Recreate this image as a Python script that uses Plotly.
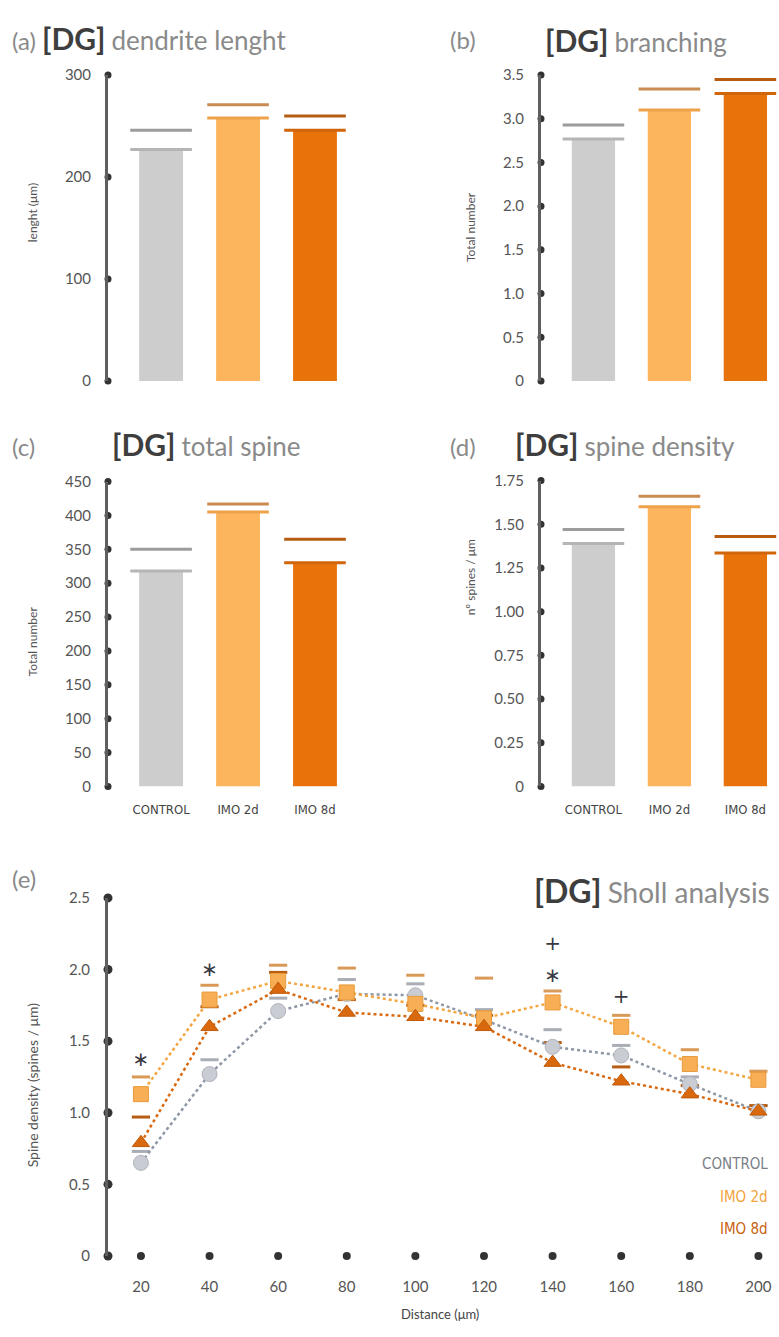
import plotly.graph_objects as go

# ---------------- data ----------------
groups = ["CONTROL", "IMO 2d", "IMO 8d"]
length_mean = [227, 258, 246]
length_err = [19, 13, 14]
branch_mean = [2.77, 3.10, 3.29]
branch_err = [0.16, 0.24, 0.16]
spine_total_mean = [318, 405, 330]
spine_total_err = [32, 12, 35]
spine_density_mean = [1.39, 1.60, 1.335]
spine_density_err = [0.08, 0.06, 0.095]

length_ticks = [0, 100, 200, 300]
branch_ticks = [0, 0.5, 1.0, 1.5, 2.0, 2.5, 3.0, 3.5]
branch_ticktext = ["0", "0.5", "1.0", "1.5", "2.0", "2.5", "3.0", "3.5"]
total_ticks = [0, 50, 100, 150, 200, 250, 300, 350, 400, 450]
density_ticks = [0, 0.25, 0.5, 0.75, 1.0, 1.25, 1.5, 1.75]
density_ticktext = ["0", "0.25", "0.50", "0.75", "1.00", "1.25", "1.50", "1.75"]

distance = [20, 40, 60, 80, 100, 120, 140, 160, 180, 200]
sholl_control = [0.65, 1.27, 1.71, 1.83, 1.82, 1.65, 1.46, 1.40, 1.20, 1.01]
sholl_imo2 = [1.13, 1.79, 1.92, 1.84, 1.76, 1.66, 1.77, 1.60, 1.34, 1.23]
sholl_imo8 = [0.79, 1.60, 1.86, 1.70, 1.67, 1.60, 1.35, 1.22, 1.13, 1.01]
sholl_control_err = [0.08, 0.10, 0.09, 0.10, 0.08, 0.07, 0.12, 0.07, 0.05, 0.04]
sholl_imo2_err = [0.12, 0.10, 0.11, 0.17, 0.20, 0.28, 0.08, 0.08, 0.10, 0.06]
sholl_imo8_err = [0.18, 0.14, 0.12, 0.09, 0.08, 0.08, 0.14, 0.10, 0.06, 0.04]
sholl_yticks = [0, 0.5, 1.0, 1.5, 2.0, 2.5]
sholl_yticktext = ["0", "0.5", "1.0", "1.5", "2.0", "2.5"]
sig_x = [20, 40, 140, 140, 160]
sig_y = [1.36, 1.99, 1.95, 2.17, 1.80]
sig_text = ["∗", "∗", "∗", "+", "+"]

# ---------------- style ----------------
W, H = 779, 1337
bar_colors = ["#cdcdcd", "#fcb55c", "#e8730b"]
top_colors = ["#b5b5b5", "#eea24a", "#d0650a"]
cap_colors = ["#9c9c9c", "#c98b52", "#b55c12"]
axis_col = "#5f5f5f"
dot_col = "#333333"
tick_font = dict(family="Lato, DejaVu Sans", size=15, color="#555555")
cond_font = "DejaVu Sans Condensed, Liberation Sans Narrow, Arial Narrow"

def px_x(p):
    return p / W

def px_y(p):
    return 1 - p / H

fig = go.Figure()

panels = [
    ("a", length_mean, length_err, length_ticks, None, (108, 345), (66, 376), [0, 300], False),
    ("b", branch_mean, branch_err, branch_ticks, branch_ticktext, (541, 775), (66, 376), [0, 3.5], False),
    ("c", spine_total_mean, spine_total_err, total_ticks, None, (108, 345), (478, 787), [0, 450], True),
    ("d", spine_density_mean, spine_density_err, density_ticks, density_ticktext, (541, 775), (477, 787), [0, 1.75], True),
]

xleft_bar = -0.69
xright_bar = 2.39
xpos = list(range(len(groups)))

for i, (name, mean, err, ticks, ttext, xd, yd, yr, showx) in enumerate(panels):
    idx = "" if i == 0 else str(i + 1)
    xa, ya = "x" + idx, "y" + idx
    fig.add_trace(go.Bar(
        x=xpos, y=mean, width=0.57, marker=dict(color=bar_colors, line=dict(width=0)),
        xaxis=xa, yaxis=ya, showlegend=False, hoverinfo="skip"))
    fig.add_trace(go.Scatter(
        x=xpos, y=mean, mode="markers", xaxis=xa, yaxis=ya, showlegend=False,
        marker=dict(symbol="line-ew", size=44, line=dict(width=3, color=top_colors)),
        hoverinfo="skip", cliponaxis=False))
    fig.add_trace(go.Scatter(
        x=xpos, y=[m + e for m, e in zip(mean, err)], mode="markers",
        xaxis=xa, yaxis=ya, showlegend=False,
        marker=dict(symbol="line-ew", size=44, line=dict(width=3, color=cap_colors)),
        hoverinfo="skip", cliponaxis=False))
    fig.add_trace(go.Scatter(
        x=[xleft_bar] * len(ticks), y=ticks, mode="markers", xaxis=xa, yaxis=ya,
        showlegend=False, marker=dict(size=7, color=dot_col), hoverinfo="skip",
        cliponaxis=False))
    fig.layout["xaxis" + idx] = dict(
        domain=[px_x(xd[0]), px_x(xd[1])], range=[xleft_bar, xright_bar],
        anchor=ya, showgrid=False, zeroline=False, showline=False,
        tickmode="array", tickvals=xpos, ticktext=groups, ticks="",
        showticklabels=showx, ticklabelstandoff=14,
        tickfont=dict(family=cond_font, size=13, color="#444444"))
    fig.layout["yaxis" + idx] = dict(
        domain=[px_y(yd[1]), px_y(yd[0])], range=yr, anchor=xa,
        showgrid=False, zeroline=False, showline=True, linecolor=axis_col, linewidth=3,
        tickmode="array", tickvals=ticks, ticktext=ttext if ttext else [str(t) for t in ticks],
        ticks="", ticklabelstandoff=11, tickfont=tick_font)

# ---------------- panel (e) ----------------
xe, ye = "x5", "y5"
xr_e = [10.4, 206.0]
series = [
    ("CONTROL", sholl_control, sholl_control_err, "#8e97a6", "circle", "#c9ccd2", "#b0b4bb", "#a9adb5"),
    ("IMO 2d", sholl_imo2, sholl_imo2_err, "#f4a640", "square", "#f8ae55", "#e89a3a", "#d99a58"),
    ("IMO 8d", sholl_imo8, sholl_imo8_err, "#d9680f", "triangle-up", "#d9690f", "#c15a08", "#b85e14"),
]
for nm, vals, errs, lcol, sym, fcol, ocol, ccol in series:
    fig.add_trace(go.Scatter(
        x=distance, y=[v + e for v, e in zip(vals, errs)], mode="markers",
        xaxis=xe, yaxis=ye, showlegend=False, hoverinfo="skip", cliponaxis=False,
        marker=dict(symbol="line-ew", size=13, line=dict(width=3, color=ccol))))
for nm, vals, errs, lcol, sym, fcol, ocol, ccol in series:
    fig.add_trace(go.Scatter(
        x=distance, y=vals, mode="lines+markers", name=nm, xaxis=xe, yaxis=ye,
        showlegend=False, line=dict(color=lcol, width=2.5, dash="dot"),
        marker=dict(symbol=sym, size=15, color=fcol, line=dict(width=1, color=ocol)),
        cliponaxis=False))
fig.add_trace(go.Scatter(
    x=distance, y=[0] * len(distance), mode="markers", xaxis=xe, yaxis=ye,
    showlegend=False, marker=dict(size=8, color=dot_col), hoverinfo="skip", cliponaxis=False))
fig.add_trace(go.Scatter(
    x=[xr_e[0]] * len(sholl_yticks), y=sholl_yticks, mode="markers", xaxis=xe, yaxis=ye,
    showlegend=False, marker=dict(size=9, color=dot_col), hoverinfo="skip", cliponaxis=False))
fig.add_trace(go.Scatter(
    x=sig_x, y=sig_y, mode="text", text=sig_text, xaxis=xe, yaxis=ye, showlegend=False,
    textfont=dict(family="DejaVu Sans", size=20, color="#3a3a44"), hoverinfo="skip",
    cliponaxis=False))

fig.layout["xaxis5"] = dict(
    domain=[px_x(108), 1.0], range=xr_e, anchor=ye, showgrid=False, zeroline=False,
    showline=False, tickmode="array", tickvals=distance, ticks="", ticklabelstandoff=20,
    tickfont=tick_font)
fig.layout["yaxis5"] = dict(
    domain=[px_y(1263), px_y(900)], range=[0, 2.5], anchor=xe, showgrid=False,
    zeroline=False, showline=True, linecolor=axis_col, linewidth=3,
    tickmode="array", tickvals=sholl_yticks, ticktext=sholl_yticktext, ticks="",
    ticklabelstandoff=12, tickfont=tick_font)

# ---------------- annotations ----------------
title_font = "Lato, DejaVu Sans"
gray = "#8a8a8a"
dark = "#3e3e3e"

def dg(text, size_dg=30, size_txt=26):
    return (f"<span style='font-size:{size_dg}px;color:{dark}'><b>[DG]</b></span> "
            f"<span style='font-size:{size_txt}px;color:{gray}'>{text}</span>")

ann = []
def add(text, x, y, xanchor="left", size=24, color=gray, family=title_font, angle=0, yanchor="middle"):
    ann.append(dict(text=text, x=px_x(x), y=px_y(y), xref="paper", yref="paper",
                    xanchor=xanchor, yanchor=yanchor, showarrow=False, textangle=angle,
                    font=dict(family=family, size=size, color=color)))

add(f"<span style='font-size:24px;color:{gray}'>(a)</span> " + dg("dendrite lenght"), 10, 28)
add("(b)", 448, 30)
add(dg("branching"), 543, 30)
add("(c)", 10, 442)
add(dg("total spine"), 110, 440)
add("(d)", 448, 442)
add(dg("spine density"), 513, 440)
add("(e)", 10, 880)
add(dg("Sholl analysis", 32, 28), 772, 893, xanchor="right")

add("lenght (μm)", 32, 205, xanchor="center", size=12, color="#555555", angle=-90)
add("Total number", 470, 220, xanchor="center", size=12, color="#555555", angle=-90)
add("Total number", 32, 640, xanchor="center", size=12, color="#555555", angle=-90)
add("nº spines / μm", 470, 575, xanchor="center", size=12, color="#555555", angle=-90)
add("Spine density (spines / μm)", 32, 1090, xanchor="center", size=14, color="#555555", angle=-90)
add("Distance (μm)", 440, 1322, xanchor="center", size=13, color="#444444")

add("CONTROL", 770, 1170, xanchor="right", size=15, color="#7a7f88", family=cond_font)
add("IMO 2d", 770, 1203, xanchor="right", size=15, color="#f2a33c", family=cond_font)
add("IMO 8d", 770, 1236, xanchor="right", size=15, color="#c9620f", family=cond_font)

fig.update_layout(
    width=W, height=H, margin=dict(l=0, r=0, t=0, b=0),
    paper_bgcolor="white", plot_bgcolor="white", annotations=ann,
    bargap=0.4, showlegend=False)

fig.write_html("out.html")
